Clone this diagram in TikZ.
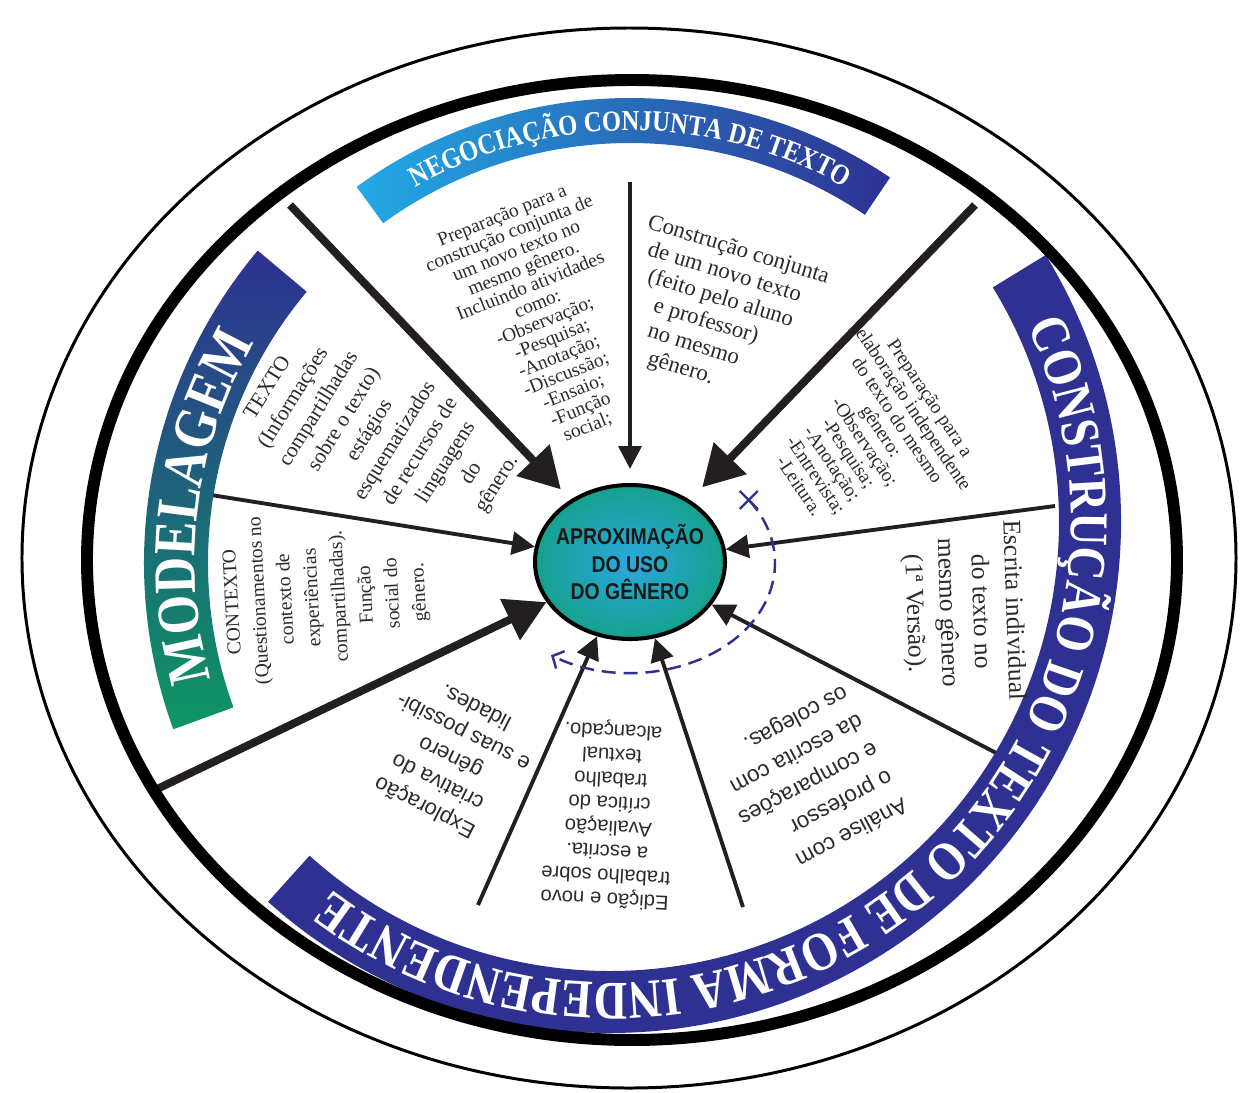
\documentclass[tikz,border=0pt]{standalone}
\usepackage{fontspec}
\setmainfont{Liberation Serif}
\newfontfamily\bandfont{Liberation Serif}[FakeStretch=0.85]
\newfontfamily\notesans{Liberation Sans}
\newfontfamily\corefont{Liberation Sans}[FakeStretch=0.85]
\usetikzlibrary{arrows.meta,shapes.geometric,shapes.misc,decorations.text}

\definecolor{bandblue}{HTML}{2E3192}
\definecolor{negcyan}{HTML}{22AAE4}
\definecolor{modgreen}{HTML}{0E9563}
\definecolor{coreteal}{HTML}{16A08D}
\definecolor{corecyan}{HTML}{2AA9E0}
\definecolor{spokegray}{HTML}{231F20}
\definecolor{notegray}{HTML}{2B2B2B}

\tikzset{
  note/.style={align=center,text=notegray,inner sep=0pt},
  spoke/.style={spokegray,line width=2.2pt,-{Triangle[length=13pt,width=13pt]}},
  bigspoke/.style={spokegray,line width=4.5pt,-{Triangle[length=23pt,width=25pt]}},
  bandtext/.style={decorate,decoration={text along path,text align=center,text color=white,text={#1}}},
}

\begin{document}
\begin{tikzpicture}
\useasboundingbox (-12.6,-10.58) rectangle (12.2,11.26);

% centre
\node[ellipse,draw,line width=2.3pt,minimum width=3.8cm,minimum height=3.08cm,inner color=corecyan,outer color=coreteal] (core) at (0,0.02) {};
\node[font=\corefont\bfseries\fontsize{13}{15.5}\selectfont,align=center,text=black!90] (coretext) at (core) {APROXIMAÇÃO\\DO USO\\DO GÊNERO};

% spokes
\coordinate (ul) at (-6.8,7.16);
\coordinate (top) at (0,7.62);
\coordinate (ur) at (6.9,7.16);
\coordinate (left) at (-8.5,1.38);
\coordinate (right) at (8.5,1.14);
\coordinate (ll) at (-9.5,-4.54);
\coordinate (lr) at (7.4,-3.84);
\coordinate (br) at (2.26,-6.88);
\coordinate (bl) at (-3.04,-6.84);

\draw[bigspoke,shorten >=8pt] (ul) -- (core);
\draw[spoke,shorten >=8pt] (top) -- (core);
\draw[bigspoke,shorten >=10pt] (ur) -- (core);
\draw[spoke] (left) -- (core);
\draw[spoke] (right) -- (core);
\draw[bigspoke] (ll) -- (core);
\draw[spoke] (lr) -- (core);
\draw[spoke] (br) -- (core);
\draw[spoke] (bl) -- (core);

% bands
\shade[left color=negcyan,right color=bandblue] (126:9.3) arc[start angle=126,end angle=56,radius=9.3] -- (56:8.4) arc[start angle=56,end angle=126,radius=8.4] -- cycle;
\shade[top color=bandblue,bottom color=modgreen] (140:9.72) arc[start angle=140,end angle=200,radius=9.72] -- (200:8.44) arc[start angle=200,end angle=140,radius=8.44] -- cycle;
\begin{scope}[shift={(-0.4,0.82)}]
\fill[bandblue] (31.5:10.22) arc[start angle=31.5,end angle=-132,radius=10.22] -- (-132:8.98) arc[start angle=-132,end angle=31.5,radius=8.98] -- cycle;
\path[bandtext={|\bandfont\bfseries\fontsize{31}{31}\selectfont|CONSTRUÇÃO DO TEXTO DE FORMA INDEPENDENTE}] (32:9.22) arc[start angle=32,end angle=-134,radius=9.22];
\end{scope}

\path[bandtext={|\bandfont\bfseries\fontsize{16.5}{16.5}\selectfont|NEGOCIAÇÃO CONJUNTA DE TEXTO}] (130:8.65) arc[start angle=130,end angle=50,radius=8.65];
\path[bandtext={|\bandfont\bfseries\fontsize{34}{34}\selectfont|MODELAGEM}] (205:8.7) arc[start angle=205,end angle=140,radius=8.7];

% rings
\draw[line width=6.8pt] (0.04,0.06) ellipse[x radius=10.9,y radius=9.6];
\draw[line width=1.7pt] (-0.02,0.1) ellipse[x radius=12.14,y radius=10.6];

% dashed return
\node[cross out,draw=bandblue,line width=1.3pt,minimum size=9pt,inner sep=0pt] (xmark) at (35:2.9 and 2.2) {};
\draw[bandblue,line width=1.4pt,dash pattern=on 8pt off 4.5pt,-{Straight Barb[length=5pt,width=11pt]}] (xmark.center) arc[start angle=35,end angle=-123,x radius=2.9,y radius=2.2];

% texts
\node[note,rotate=22,font=\fontsize{11}{10.8}\selectfont] (prepneg) at (-1.70,4.82) {Preparação para a\\construção conjunta de\\um novo texto no\\mesmo gênero.\\Incluindo atividades\\como:\\-Observação;\\-Pesquisa;\\-Anotação;\\-Discussão;\\-Ensaio;\\-Função\\social;};
\node[note,align=left,rotate=-17,anchor=north west,font=\fontsize{13}{14.8}\selectfont] (conjunta) at (0.42,7.0) {Construção conjunta\\\hspace{4.5pt}de um novo texto\\\hspace{9pt}(feito pelo aluno\\\hspace{17pt}e professor)\\\hspace{18pt}no mesmo\\\hspace{22.5pt}gênero.};
\node[note,rotate=-56,font=\fontsize{11}{11.2}\selectfont] (prepind) at (4.70,2.42) {Preparação para a\\elaboração independente\\do texto do mesmo\\gênero:\\-Observação;\\-Pesquisa;\\-Anotação;\\-Entrevista;\\-Leitura.};
\node[note,rotate=58,font=\fontsize{12.2}{15.5}\selectfont] (texto) at (-5.15,2.2) {TEXTO\\\hspace{5pt}(Informações\\\hspace{10pt}compartilhadas\\\hspace{15pt}sobre o texto)\\\hspace{20pt}estágios\\\hspace{25pt}esquematizados\\\hspace{30pt}de recursos de\\\hspace{35pt}linguagens\\\hspace{40pt}do\\\hspace{45pt}gênero.};
\node[note,rotate=93,font=\fontsize{11.2}{15.2}\selectfont] (contexto) at (-6.06,-0.68) {CONTEXTO\\(Questionamentos no\\contexto de\\experiências\\compartilhadas).\\Função\\social do\\gênero.};
\node[note,rotate=-88,font=\fontsize{14.5}{18.8}\selectfont] (escrita) at (6.66,-0.98) {Escrita individual\\do texto no\\mesmo gênero\\(1ª Versão).};
\node[note,align=left,rotate=-152,font=\notesans\fontsize{12.8}{18}\selectfont] (analise) at (3.55,-4.4) {Análise com\\o professor\\e comparações\\da escrita com\\os colegas.};
\node[note,rotate=177,font=\notesans\fontsize{11.5}{13.7}\selectfont] (edicao) at (-0.42,-5.02) {Edição e novo\\trabalho sobre\\a escrita.\\Avaliação\\crítica do\\trabalho\\textual\\alcançado.};
\node[note,rotate=153,font=\notesans\fontsize{12.5}{16}\selectfont] (exploracao) at (-3.6,-3.9) {Exploração\\criativa do\\gênero\\e suas possibi-\\lidades.};

\end{tikzpicture}
\end{document}
